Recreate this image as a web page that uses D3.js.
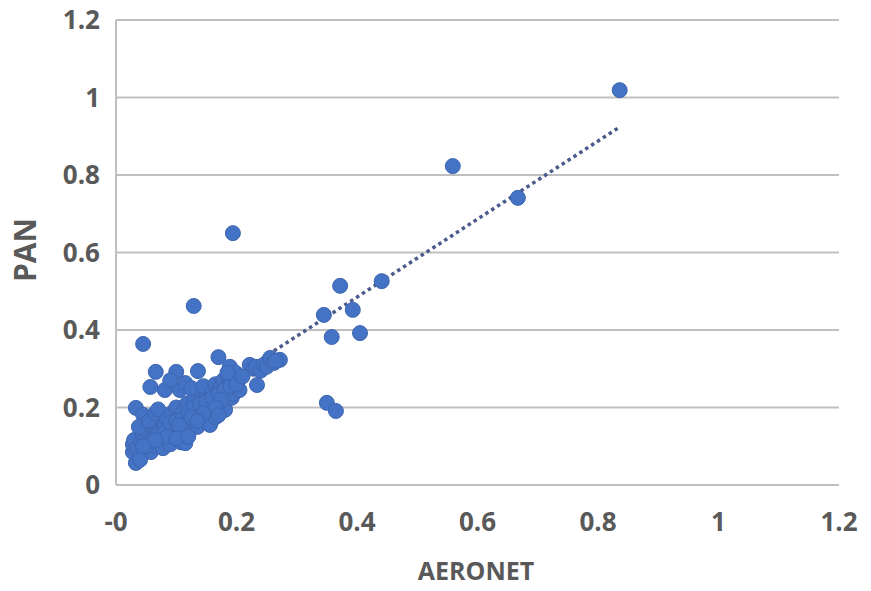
<!DOCTYPE html>
<html>
<head>
<meta charset="utf-8">
<script src="https://cdn.jsdelivr.net/npm/d3@7"></script>
<style>
	body { margin: 0; background: #fff; }
	.tick-label { font-family: "Open Sans", sans-serif; font-weight: 700; font-size: 26px; fill: #595959; }
	.axis-title { font-family: "Open Sans", sans-serif; font-weight: 700; fill: #595959; }
</style>
</head>
<body>
<div class="content"></div>
<script>
var svgWidth = 871;  // The width of the SVG element.
var svgHeight = 591;  // The height of the SVG element.

// AERONET (x) values of the points.
var aeronet = [
	0.033, 0.028, 0.028, 0.030, 0.035, 0.040, 0.042, 0.045, 0.048, 0.050,
	0.052, 0.055, 0.058, 0.060, 0.062, 0.065, 0.068, 0.070, 0.072, 0.075,
	0.078, 0.080, 0.033, 0.045, 0.038, 0.055, 0.065, 0.070,
	0.082, 0.085, 0.088, 0.090, 0.092, 0.095, 0.098, 0.100, 0.102, 0.105,
	0.108, 0.110, 0.112, 0.115, 0.118, 0.120, 0.122, 0.125, 0.128, 0.130,
	0.132, 0.135, 0.138, 0.140, 0.142, 0.145, 0.148, 0.150, 0.152, 0.155,
	0.156, 0.158,
	0.057, 0.066, 0.081, 0.100, 0.106, 0.115, 0.136, 0.090, 0.125, 0.145,
	0.160, 0.165, 0.168, 0.170, 0.172, 0.175, 0.178, 0.180, 0.181, 0.185,
	0.188, 0.189, 0.190, 0.192, 0.195, 0.198, 0.200, 0.205, 0.222, 0.228,
	0.232, 0.234, 0.240, 0.245, 0.250, 0.256, 0.262, 0.272, 0.265,
	0.160, 0.165, 0.170,
	0.050, 0.060, 0.070, 0.080, 0.090, 0.100, 0.110, 0.120, 0.130, 0.140,
	0.150, 0.160, 0.170, 0.180, 0.190, 0.200, 0.210, 0.185, 0.175, 0.165,
	0.145, 0.125, 0.105, 0.085, 0.065, 0.045, 0.040, 0.100, 0.120, 0.135,
	0.170,
	0.836, 0.559, 0.667, 0.194, 0.441, 0.372, 0.345, 0.393, 0.358, 0.405,
	0.129, 0.045, 0.350, 0.365
];

// PAN (y) values of the points, in the same order.
var pan = [
	0.057, 0.085, 0.105, 0.116, 0.095, 0.075, 0.110, 0.130, 0.090, 0.120,
	0.140, 0.105, 0.085, 0.150, 0.125, 0.100, 0.140, 0.115, 0.160, 0.130,
	0.095, 0.150, 0.199, 0.181, 0.150, 0.165, 0.185, 0.195,
	0.120, 0.170, 0.140, 0.105, 0.185, 0.155, 0.125, 0.200, 0.170, 0.140,
	0.110, 0.185, 0.155, 0.108, 0.210, 0.170, 0.140, 0.195, 0.160, 0.225,
	0.185, 0.150, 0.205, 0.240, 0.175, 0.220, 0.195, 0.250, 0.160, 0.230,
	0.155, 0.205,
	0.253, 0.292, 0.245, 0.292, 0.245, 0.263, 0.294, 0.270, 0.250, 0.255,
	0.240, 0.260, 0.215, 0.330, 0.250, 0.235, 0.270, 0.200, 0.194, 0.280,
	0.250, 0.305, 0.263, 0.225, 0.235, 0.290, 0.270, 0.245, 0.310, 0.300,
	0.305, 0.258, 0.295, 0.310, 0.305, 0.328, 0.315, 0.323, 0.320,
	0.190, 0.175, 0.210,
	0.100, 0.115, 0.130, 0.135, 0.160, 0.165, 0.170, 0.190, 0.200, 0.210,
	0.215, 0.225, 0.235, 0.245, 0.255, 0.260, 0.280, 0.290, 0.220, 0.200,
	0.185, 0.175, 0.155, 0.125, 0.115, 0.100, 0.065, 0.120, 0.125, 0.165,
	0.180,
	1.019, 0.823, 0.741, 0.650, 0.526, 0.514, 0.439, 0.452, 0.382, 0.392,
	0.462, 0.364, 0.212, 0.191
];

// Linear trend line.
var trendSlope = 1.007;
var trendIntercept = 0.082;

var xTicks = [0, 0.2, 0.4, 0.6, 0.8, 1, 1.2];
var xTickLabels = ["-0", "0.2", "0.4", "0.6", "0.8", "1", "1.2"];
var yTicks = [0, 0.2, 0.4, 0.6, 0.8, 1, 1.2];
var yTickLabels = ["0", "0.2", "0.4", "0.6", "0.8", "1", "1.2"];

var plotLeft = 116;
var plotRight = 839;
var plotTop = 20;
var plotBottom = 485;

var x = d3.scaleLinear().domain([0, 1.2]).range([plotLeft, plotRight]);
var y = d3.scaleLinear().domain([0, 1.2]).range([plotBottom, plotTop]);

var points = aeronet.map(function(d, i) { return {"x" : d, "y" : pan[i]}; });

// Create the SVG element.
var svg = d3.select(".content")
	.append("svg")
	.attr("width", svgWidth)
	.attr("height", svgHeight);

// Horizontal gridlines (the bottom one doubles as the x axis line).
svg.append("g")
	.selectAll("line")
	.data(yTicks)
	.enter().append("line")
	.attr("x1", plotLeft)
	.attr("x2", plotRight)
	.attr("y1", function(d) { return y(d); })
	.attr("y2", function(d) { return y(d); })
	.attr("stroke", "#bfbfbf")
	.attr("stroke-width", 2);

// Vertical axis line.
svg.append("line")
	.attr("x1", plotLeft)
	.attr("x2", plotLeft)
	.attr("y1", plotTop)
	.attr("y2", plotBottom)
	.attr("stroke", "#bfbfbf")
	.attr("stroke-width", 2);

// Y tick labels.
svg.append("g")
	.selectAll("text")
	.data(yTicks)
	.enter().append("text")
	.classed("tick-label", true)
	.attr("x", plotLeft - 16)
	.attr("y", function(d) { return y(d); })
	.attr("dy", "0.35em")
	.attr("text-anchor", "end")
	.text(function(d, i) { return yTickLabels[i]; });

// X tick labels.
svg.append("g")
	.selectAll("text")
	.data(xTicks)
	.enter().append("text")
	.classed("tick-label", true)
	.attr("x", function(d) { return x(d); })
	.attr("y", 531)
	.attr("text-anchor", "middle")
	.text(function(d, i) { return xTickLabels[i]; });

// Axis titles.
svg.append("text")
	.classed("axis-title", true)
	.attr("x", 476)
	.attr("y", 580)
	.attr("text-anchor", "middle")
	.attr("font-size", 25)
	.text("AERONET");

svg.append("text")
	.classed("axis-title", true)
	.attr("transform", "translate(36,250) rotate(-90)")
	.attr("text-anchor", "middle")
	.attr("font-size", 30)
	.text("PAN");

// Dotted trend line spanning the data range, drawn under the points.
var xMin = d3.min(aeronet);
var xMax = d3.max(aeronet);
svg.append("line")
	.attr("x1", x(xMin))
	.attr("y1", y(trendSlope * xMin + trendIntercept))
	.attr("x2", x(xMax))
	.attr("y2", y(trendSlope * xMax + trendIntercept))
	.attr("stroke", "#4a5a8a")
	.attr("stroke-width", 3.5)
	.attr("stroke-dasharray", "3.5,3.5");

// Scatter points.
svg.append("g")
	.selectAll("circle")
	.data(points)
	.enter().append("circle")
	.attr("cx", function(d) { return x(d.x); })
	.attr("cy", function(d) { return y(d.y); })
	.attr("r", 7.5)
	.attr("fill", "#4472c4")
	.attr("stroke", "#3d66b0")
	.attr("stroke-width", 1);
</script>
</body>
</html>
